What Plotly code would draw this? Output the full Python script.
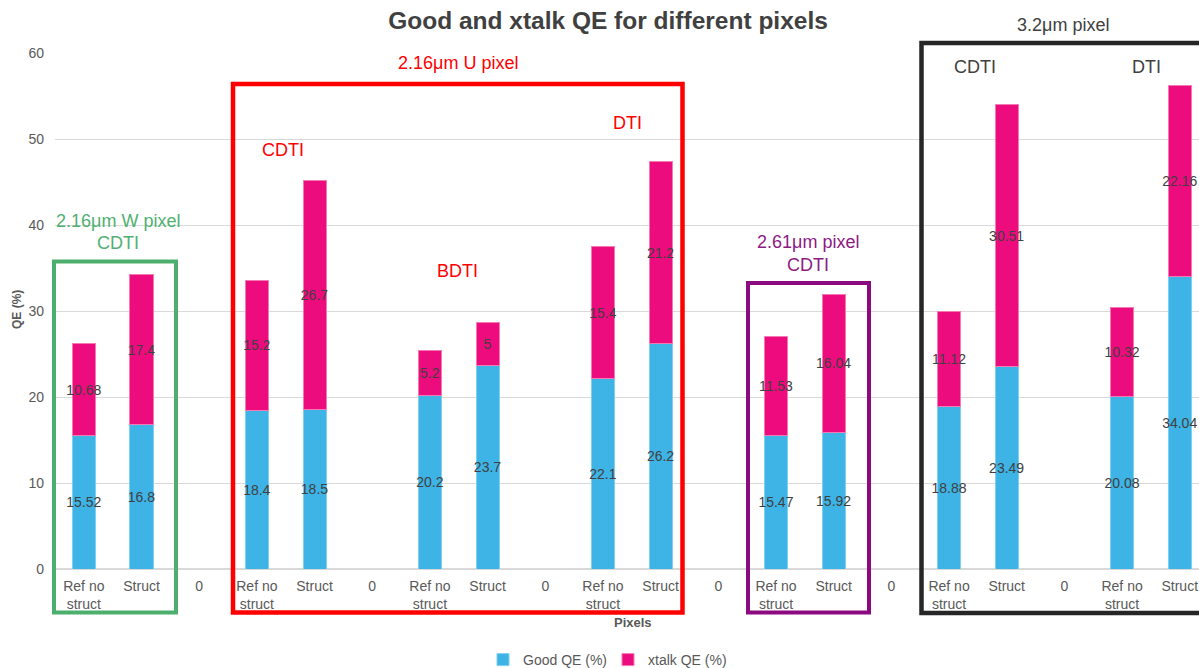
import plotly.graph_objects as go

# ---- data ----
tick_labels = ["Ref no<br>struct", "Struct", "0",
               "Ref no<br>struct", "Struct", "0",
               "Ref no<br>struct", "Struct", "0",
               "Ref no<br>struct", "Struct", "0",
               "Ref no<br>struct", "Struct", "0",
               "Ref no<br>struct", "Struct", "0",
               "Ref no<br>struct", "Struct"]
good_qe = [15.52, 16.8, None,
           18.4, 18.5, None,
           20.2, 23.7, None,
           22.1, 26.2, None,
           15.47, 15.92, None,
           18.88, 23.49, None,
           20.08, 34.04]
xtalk_qe = [10.68, 17.4, None,
            15.2, 26.7, None,
            5.2, 5, None,
            15.4, 21.2, None,
            11.53, 16.04, None,
            11.12, 30.51, None,
            10.32, 22.16]
y_ticks = [0, 10, 20, 30, 40, 50, 60]

W, H = 1199, 668
L, R, T, B = 55, 0, 53, 99
PW, PH = W - L - R, H - T - B


def px(x):
    return (x - L) / PW


def py(y):
    return (H - B - y) / PH


xs = list(range(len(tick_labels)))
FONT = "Liberation Sans, Arial, sans-serif"

def fmt(v):
    return "" if v is None else f"{v:g}"

fig = go.Figure()
fig.add_trace(go.Bar(
    x=xs, y=good_qe, name="Good QE (%)", width=0.4,
    marker=dict(color="#3DB3E6", line=dict(color="#7FD0F2", width=1)),
    text=[fmt(v) for v in good_qe], textposition="inside", insidetextanchor="middle",
    textangle=0, constraintext="none",
    textfont=dict(family=FONT, size=14, color="#404040"),
))
fig.add_trace(go.Bar(
    x=xs, y=xtalk_qe, name="xtalk QE (%)", width=0.4,
    marker=dict(color="#EC0C7E", line=dict(color="#F57AB4", width=1)),
    text=[fmt(v) for v in xtalk_qe], textposition="inside", insidetextanchor="middle",
    textangle=0, constraintext="none",
    textfont=dict(family=FONT, size=14, color="#404040"),
))

# group boxes
boxes = [
    (54, 261.5, 176, 612.5, "#4CAF6D", 4),
    (233, 84, 682.5, 612.5, "#FF0000", 4.5),
    (748, 283, 869, 612.5, "#8B0A80", 4),
    (921.5, 43, 1215, 613, "#262626", 4.5),
]
for x0, y0, x1, y1, c, w in boxes:
    fig.add_shape(type="rect", xref="paper", yref="paper",
                  x0=px(x0), x1=px(x1), y0=py(y0), y1=py(y1),
                  line=dict(color=c, width=w), fillcolor="rgba(0,0,0,0)")

labels = [
    (118, 221, "2.16μm W pixel", "#4FB071"),
    (118, 243, "CDTI", "#4FB071"),
    (458, 63, "2.16μm U pixel", "#FF0000"),
    (283, 150, "CDTI", "#FF0000"),
    (457, 271, "BDTI", "#FF0000"),
    (627, 123, "DTI", "#FF0000"),
    (808, 242, "2.61μm pixel", "#8E1A84"),
    (808, 265, "CDTI", "#8E1A84"),
    (1063, 25, "3.2μm pixel", "#404040"),
    (975, 67, "CDTI", "#404040"),
    (1146, 67, "DTI", "#404040"),
]
for x, y, t, c in labels:
    fig.add_annotation(xref="paper", yref="paper", x=px(x), y=py(y), text=t,
                       showarrow=False, xanchor="center", yanchor="middle",
                       font=dict(family=FONT, size=18, color=c))

# axis titles
fig.add_annotation(xref="paper", yref="paper", x=px(633), y=py(622), text="<b>Pixels</b>",
                   showarrow=False, xanchor="center", yanchor="middle",
                   font=dict(family=FONT, size=13, color="#595959"))
fig.add_annotation(xref="paper", yref="paper", x=px(17), y=py(310), text="<b>QE (%)</b>",
                   showarrow=False, textangle=-90, xanchor="center", yanchor="middle",
                   font=dict(family=FONT, size=12, color="#595959"))

fig.update_layout(
    width=W, height=H, barmode="stack", bargap=0.6,
    paper_bgcolor="white", plot_bgcolor="white",
    margin=dict(l=L, r=R, t=T, b=B, autoexpand=False),
    title=dict(text="<b>Good and xtalk QE for different pixels</b>", x=608 / W, xref="container",
               xanchor="center", y=1 - 20 / H, yref="container", yanchor="middle",
               font=dict(family=FONT, size=24.5, color="#404040")),
    font=dict(family=FONT, color="#595959"),
    legend=dict(orientation="h", x=px(608), xanchor="center", y=py(660), yanchor="middle",
                font=dict(family=FONT, size=14, color="#595959"), traceorder="normal",
                itemwidth=30, entrywidth=80),
    showlegend=True,
)
fig.update_xaxes(range=[-0.5, -0.5 + PW / 57.68], tickmode="array", tickvals=xs, ticktext=tick_labels,
                 showgrid=False, zeroline=False, showline=False, ticks="", ticklabelstandoff=7,
                 tickfont=dict(family=FONT, size=14, color="#595959"), automargin=False)
fig.update_yaxes(range=[0, 60], tickmode="array", tickvals=y_ticks,
                 showgrid=True, gridcolor="#D9D9D9", gridwidth=1, zeroline=True, zerolinecolor="#D9D9D9",
                 showline=False, ticks="", ticklabelstandoff=10,
                 tickfont=dict(family=FONT, size=14, color="#595959"), automargin=False)

fig.write_html("out.html", config={"displayModeBar": False},
               post_script="document.body.style.margin='0';document.body.style.overflow='hidden';"
                           "document.documentElement.style.overflow='hidden';")
